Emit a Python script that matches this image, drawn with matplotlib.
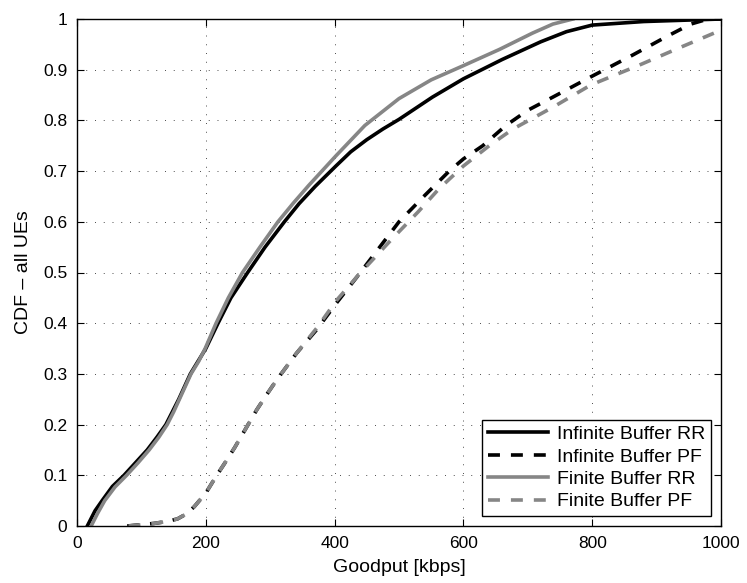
import matplotlib
matplotlib.use("Agg")
import matplotlib.pyplot as plt

plt.rcParams['font.family'] = ['Liberation Sans', 'DejaVu Sans']
plt.rcParams['lines.scale_dashes'] = False

# Infinite Buffer RR (black solid)
inf_rr_x = [16, 28, 39, 55, 73, 91, 109, 124, 138, 148, 158, 167, 176, 188, 200, 219, 239, 265, 292, 322, 345, 370, 402, 425, 450, 475, 500, 552, 600, 660, 720, 760, 800, 880, 1000]
inf_rr_y = [0, 0.03, 0.05, 0.078, 0.1, 0.125, 0.15, 0.175, 0.2, 0.225, 0.25, 0.275, 0.3, 0.325, 0.35, 0.4, 0.45, 0.5, 0.55, 0.6, 0.636, 0.67, 0.71, 0.738, 0.762, 0.783, 0.802, 0.846, 0.882, 0.92, 0.955, 0.975, 0.988, 0.995, 1.0]

# Infinite Buffer PF (black dashed)
inf_pf_x = [78, 119, 140, 156, 170, 182, 200, 217, 231, 245, 262, 279, 295, 310, 341, 372, 403, 437, 470, 500, 540, 578, 600, 630, 666, 700, 739, 798, 863, 915, 953, 980, 1000]
inf_pf_y = [0, 0.005, 0.009, 0.014, 0.024, 0.038, 0.065, 0.1, 0.127, 0.155, 0.192, 0.229, 0.26, 0.288, 0.341, 0.387, 0.44, 0.495, 0.55, 0.6, 0.652, 0.7, 0.724, 0.75, 0.79, 0.82, 0.846, 0.886, 0.929, 0.965, 0.99, 1.0, 1.0]

# Finite Buffer RR (gray solid)
fin_rr_x = [22, 32, 43, 59, 77, 95, 112, 127, 140, 150, 159, 168, 177, 189, 199, 216, 235, 257, 284, 312, 336, 360, 402, 447, 500, 550, 600, 656, 707, 739, 770]
fin_rr_y = [0, 0.025, 0.05, 0.077, 0.1, 0.125, 0.15, 0.175, 0.2, 0.225, 0.25, 0.275, 0.3, 0.325, 0.35, 0.4, 0.45, 0.5, 0.55, 0.6, 0.637, 0.672, 0.73, 0.79, 0.843, 0.88, 0.908, 0.94, 0.972, 0.99, 1.0]

# Finite Buffer PF (gray dashed)
fin_pf_x = [80, 119, 140, 156, 170, 182, 200, 217, 231, 245, 262, 279, 295, 310, 341, 372, 403, 437, 489, 530, 562, 600, 640, 677, 739, 798, 873, 935, 1000]
fin_pf_y = [0, 0.005, 0.009, 0.014, 0.024, 0.038, 0.065, 0.1, 0.127, 0.155, 0.192, 0.229, 0.26, 0.288, 0.341, 0.39, 0.445, 0.495, 0.566, 0.62, 0.665, 0.71, 0.75, 0.783, 0.826, 0.87, 0.909, 0.943, 0.978]

x_ticks = [0, 200, 400, 600, 800, 1000]
y_ticks = [0, 0.1, 0.2, 0.3, 0.4, 0.5, 0.6, 0.7, 0.8, 0.9, 1.0]
y_tick_labels = ['0', '0.1', '0.2', '0.3', '0.4', '0.5', '0.6', '0.7', '0.8', '0.9', '1']

GRAY = '#868686'
DASH = (8.6, 7.9)
FS_TICK = 12.5
FS = 14

fig = plt.figure(figsize=(7.47, 5.83), dpi=100)
ax = fig.add_axes([77/747, 1 - 526/583, (721 - 77)/747, (526 - 19)/583])

lw = 2.6
ax.plot(inf_rr_x, inf_rr_y, color='black', lw=lw, label='Infinite Buffer RR')
ax.plot(inf_pf_x, inf_pf_y, color='black', lw=lw, dashes=DASH, label='Infinite Buffer PF')
ax.plot(fin_rr_x, fin_rr_y, color=GRAY, lw=lw, label='Finite Buffer RR')
ax.plot(fin_pf_x, fin_pf_y, color=GRAY, lw=lw, dashes=DASH, label='Finite Buffer PF')

ax.set_xlim(0, 1000)
ax.set_ylim(0, 1)
ax.set_xticks(x_ticks)
ax.set_yticks(y_ticks)
ax.set_yticklabels(y_tick_labels)
ax.tick_params(direction='in', length=5, width=0.8, top=True, right=True, labelsize=FS_TICK, pad=7)
for s in ax.spines.values():
    s.set_linewidth(1.0)

ax.grid(True, color='#303030', lw=0.6, dashes=(0.7, 5.6))
ax.set_axisbelow(True)

ax.set_xlabel('Goodput [kbps]', fontsize=FS, labelpad=6)
ax.set_ylabel('CDF \u2013 all UEs', fontsize=FS, labelpad=8)

leg = ax.legend(loc='lower right', fontsize=FS, frameon=True, fancybox=False, framealpha=1,
                edgecolor='black', handlelength=3.1, borderaxespad=0.5, labelspacing=0.25,
                handletextpad=0.45, borderpad=0.3)
leg.get_frame().set_linewidth(1.0)

fig.savefig('out.png', dpi=100)
